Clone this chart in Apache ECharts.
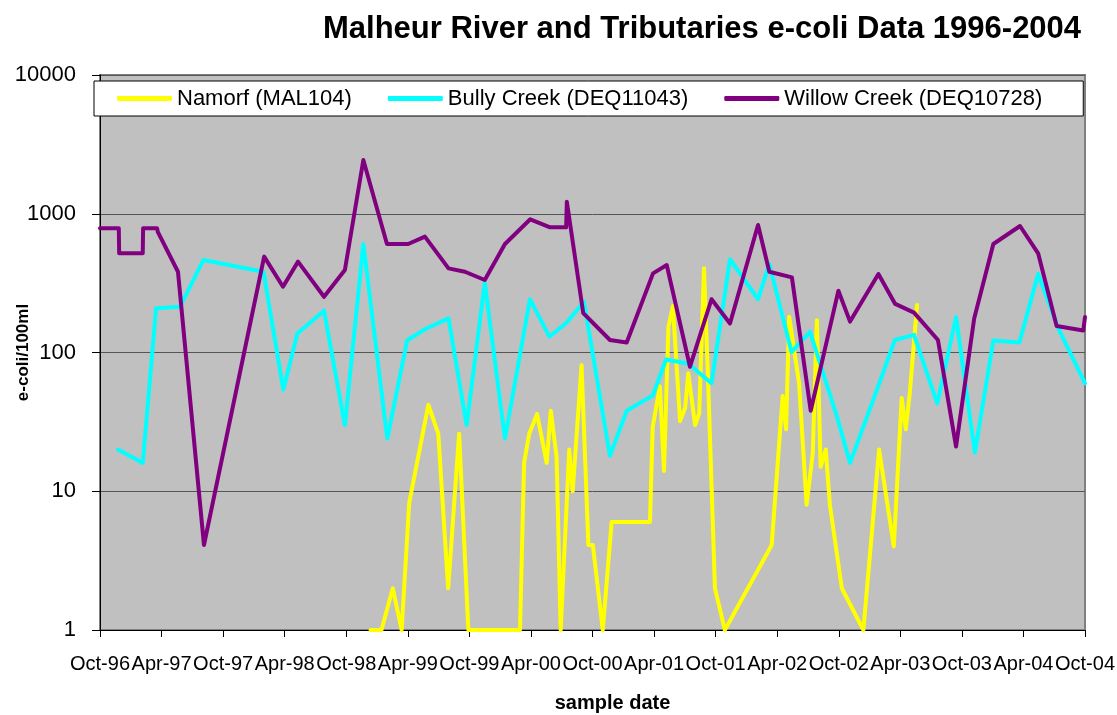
<!DOCTYPE html>
<html>
<head>
<meta charset="utf-8">
<title>Malheur River and Tributaries e-coli Data 1996-2004</title>
<script src="https://cdn.jsdelivr.net/npm/echarts@6/dist/echarts.min.js"></script>
<style>
  html, body { margin: 0; padding: 0; background: #fff; }
  #chart { width: 1117px; height: 715px; }
</style>
</head>
<body>
<div id="chart"></div>
<script>
// tick labels along the date axis, one every 6 months from Oct-96
var tickLabels = ['Oct-96', 'Apr-97', 'Oct-97', 'Apr-98', 'Oct-98', 'Apr-99', 'Oct-99', 'Apr-00',
    'Oct-00', 'Apr-01', 'Oct-01', 'Apr-02', 'Oct-02', 'Apr-03', 'Oct-03', 'Apr-04', 'Oct-04'];

var seriesNames = ['Namorf (MAL104)', 'Bully Creek (DEQ11043)', 'Willow Creek (DEQ10728)'];

// Namorf (MAL104)
var namorfDates = ['1998-12-12', '1999-01-14', '1999-02-17', '1999-03-13', '1999-04-05', '1999-06-01', '1999-06-30', '1999-07-29', '1999-09-01', '1999-09-28',
    '2000-02-29', '2000-03-11', '2000-03-26', '2000-04-19', '2000-05-17', '2000-05-29', '2000-06-16', '2000-06-28', '2000-07-23', '2000-08-03',
    '2000-08-29', '2000-09-19', '2000-10-02', '2000-10-31', '2000-11-27', '2001-03-19', '2001-03-27', '2001-04-18', '2001-04-30', '2001-05-13',
    '2001-05-26', '2001-06-17', '2001-07-02', '2001-07-11', '2001-07-31', '2001-08-13', '2001-08-27', '2001-09-09', '2001-09-29', '2001-10-28',
    '2002-03-15', '2002-04-17', '2002-04-27', '2002-05-06', '2002-06-05', '2002-06-27', '2002-07-15', '2002-07-27', '2002-08-08', '2002-08-23',
    '2002-09-05', '2002-10-10', '2002-12-13', '2003-01-29', '2003-03-12', '2003-04-05', '2003-04-17', '2003-04-29', '2003-05-20'];
var namorfValues = [1, 1, 2, 1, 8.2, 42, 26, 2, 26, 1,
    1, 16, 26, 36, 16, 38, 17.7, 1, 20, 10,
    81, 4.1, 4.1, 1, 6, 6, 29, 57, 14, 153,
    216, 32, 40, 71, 30, 36.5, 404, 63, 2, 1,
    4.1, 48.6, 28, 181, 60, 8, 18.8, 171, 15, 20,
    8, 2, 1, 20, 4, 47, 28, 52, 220];

// Bully Creek (DEQ11043)
var bullyDates = ['1996-11-24', '1997-02-06', '1997-03-15', '1997-05-25', '1997-08-03', '1998-01-29', '1998-03-27', '1998-05-08', '1998-07-26', '1998-09-27',
    '1998-11-21', '1999-02-01', '1999-03-29', '1999-05-21', '1999-07-30', '1999-09-23', '1999-11-16', '2000-01-15', '2000-03-28', '2000-05-25',
    '2000-07-15', '2000-09-06', '2000-11-22', '2001-01-11', '2001-03-27', '2001-05-06', '2001-07-11', '2001-09-19', '2001-11-13', '2002-02-05',
    '2002-03-08', '2002-05-13', '2002-07-07', '2002-09-25', '2002-11-04', '2003-01-24', '2003-03-15', '2003-05-11', '2003-07-19', '2003-09-14',
    '2003-11-09', '2004-01-03', '2004-03-19', '2004-05-14', '2004-07-13', '2004-10-01'];
var bullyValues = [20, 16, 208, 214, 464, 382, 54, 137, 200, 30,
    605, 24, 122, 147, 176, 30, 318, 24, 242, 130,
    164, 232, 18, 38, 49, 89, 83, 60, 470, 242,
    434, 101, 141, 35, 16, 55, 123, 134, 43, 180,
    19, 122, 118, 368, 149, 60];

// Willow Creek (DEQ10728)
var willowDates = ['1996-10-01', '1996-11-26', '1996-11-27', '1997-02-06', '1997-02-07', '1997-03-18', '1997-03-20', '1997-05-19', '1997-08-05',
    '1998-02-01', '1998-03-26', '1998-05-10', '1998-07-26', '1998-09-27', '1998-11-21', '1999-01-30', '1999-04-02', '1999-05-21', '1999-07-30',
    '1999-09-18', '1999-11-16', '2000-01-15', '2000-03-29', '2000-05-27', '2000-07-14', '2000-07-16', '2000-09-04', '2000-11-22', '2001-01-11',
    '2001-03-28', '2001-05-08', '2001-07-16', '2001-09-19', '2001-11-13', '2002-02-05', '2002-03-08', '2002-05-14', '2002-07-09', '2002-09-30',
    '2002-11-04', '2003-01-27', '2003-03-16', '2003-05-11', '2003-07-21', '2003-09-14', '2003-11-07', '2004-01-03', '2004-03-21', '2004-05-14',
    '2004-07-08', '2004-09-26', '2004-10-01'];
var willowValues = [785, 785, 519, 519, 785, 785, 740, 382, 4.1,
    491, 298, 452, 252, 393, 2440, 605, 605, 684, 404,
    382, 333, 605, 912, 798, 798, 1222, 192, 123, 118,
    372, 427, 79, 242, 162, 830, 382, 348, 38, 279,
    167, 368, 224, 194, 123, 21, 176, 605, 816, 519,
    155, 144, 180];

var FONT = '"Liberation Sans", Arial, sans-serif';

// months elapsed since Oct 1996, so the 6-month ticks fall on whole numbers
function toMonths(s) {
    var p = s.split('-');
    return (p[0] - 1996) * 12 + (p[1] - 10) + (p[2] - 1) / 30;
}

function pairs(dates, values) {
    return dates.map(function (d, i) {
        return [toMonths(d), values[i]];
    });
}

function lineSeries(name, color, dates, values) {
    return {
        name: name,
        type: 'line',
        symbol: 'none',
        showSymbol: false,
        clip: false,
        color: color,
        lineStyle: { width: 4, color: color, join: 'round', cap: 'round' },
        data: pairs(dates, values)
    };
}

var chart = echarts.init(document.getElementById('chart'));
var option = {
    animation: false,
    backgroundColor: '#fff',
    textStyle: { fontFamily: FONT },
    title: {
        text: 'Malheur River and Tributaries e-coli Data 1996-2004',
        left: 318,
        top: 9,
        textStyle: { fontFamily: FONT, fontSize: 31, fontWeight: 'bold', color: '#000' }
    },
    legend: {
        left: 94,
        top: 81,
        backgroundColor: '#fff',
        borderColor: '#000',
        borderWidth: 1,
        borderRadius: 0,
        padding: [6, 41, 6, 23],
        itemGap: 36,
        itemWidth: 55,
        itemHeight: 5,
        icon: 'roundRect',
        textStyle: { fontFamily: FONT, fontSize: 22, lineHeight: 23, color: '#000' },
        data: seriesNames
    },
    grid: {
        left: 100,
        right: 32,
        top: 75,
        bottom: 85,
        containLabel: false,
        outerBoundsMode: 'none',
        show: true,
        backgroundColor: '#C0C0C0',
        borderColor: '#808080',
        borderWidth: 2
    },
    xAxis: {
        type: 'value',
        min: 0,
        max: 96,
        interval: 6,
        name: 'sample date',
        nameLocation: 'middle',
        nameGap: 63,
        nameMoveOverlap: false,
        nameTextStyle: { fontFamily: FONT, fontSize: 20, fontWeight: 'bold', color: '#000', padding: [0, 0, 0, 40] },
        axisLine: { lineStyle: { color: '#000', width: 1 } },
        axisTick: { length: 7, lineStyle: { color: '#000' } },
        axisLabel: {
            fontFamily: FONT,
            fontSize: 20,
            color: '#000',
            margin: 24,
            showMinLabel: true,
            showMaxLabel: true,
            formatter: function (v) {
                return tickLabels[Math.round(v / 6)];
            }
        },
        splitLine: { show: false }
    },
    yAxis: {
        type: 'log',
        logBase: 10,
        min: 1,
        max: 10000,
        name: 'e-coli/100ml',
        nameLocation: 'middle',
        nameRotate: 90,
        nameGap: 68,
        nameMoveOverlap: false,
        nameTextStyle: { fontFamily: FONT, fontSize: 17, fontWeight: 'bold', color: '#000' },
        axisLine: { show: true, lineStyle: { color: '#000', width: 1 } },
        axisTick: { show: true, length: 8, lineStyle: { color: '#000' } },
        axisLabel: {
            fontFamily: FONT,
            fontSize: 22,
            color: '#000',
            margin: 24,
            formatter: function (v) {
                return String(Math.round(v));
            }
        },
        splitLine: { show: true, lineStyle: { color: '#555', width: 1 } }
    },
    series: [
        lineSeries(seriesNames[0], '#FFFF00', namorfDates, namorfValues),
        lineSeries(seriesNames[1], '#00FFFF', bullyDates, bullyValues),
        lineSeries(seriesNames[2], '#800080', willowDates, willowValues)
    ]
};
chart.setOption(option);
window.addEventListener('resize', function () {
    chart.resize();
});
</script>
</body>
</html>
